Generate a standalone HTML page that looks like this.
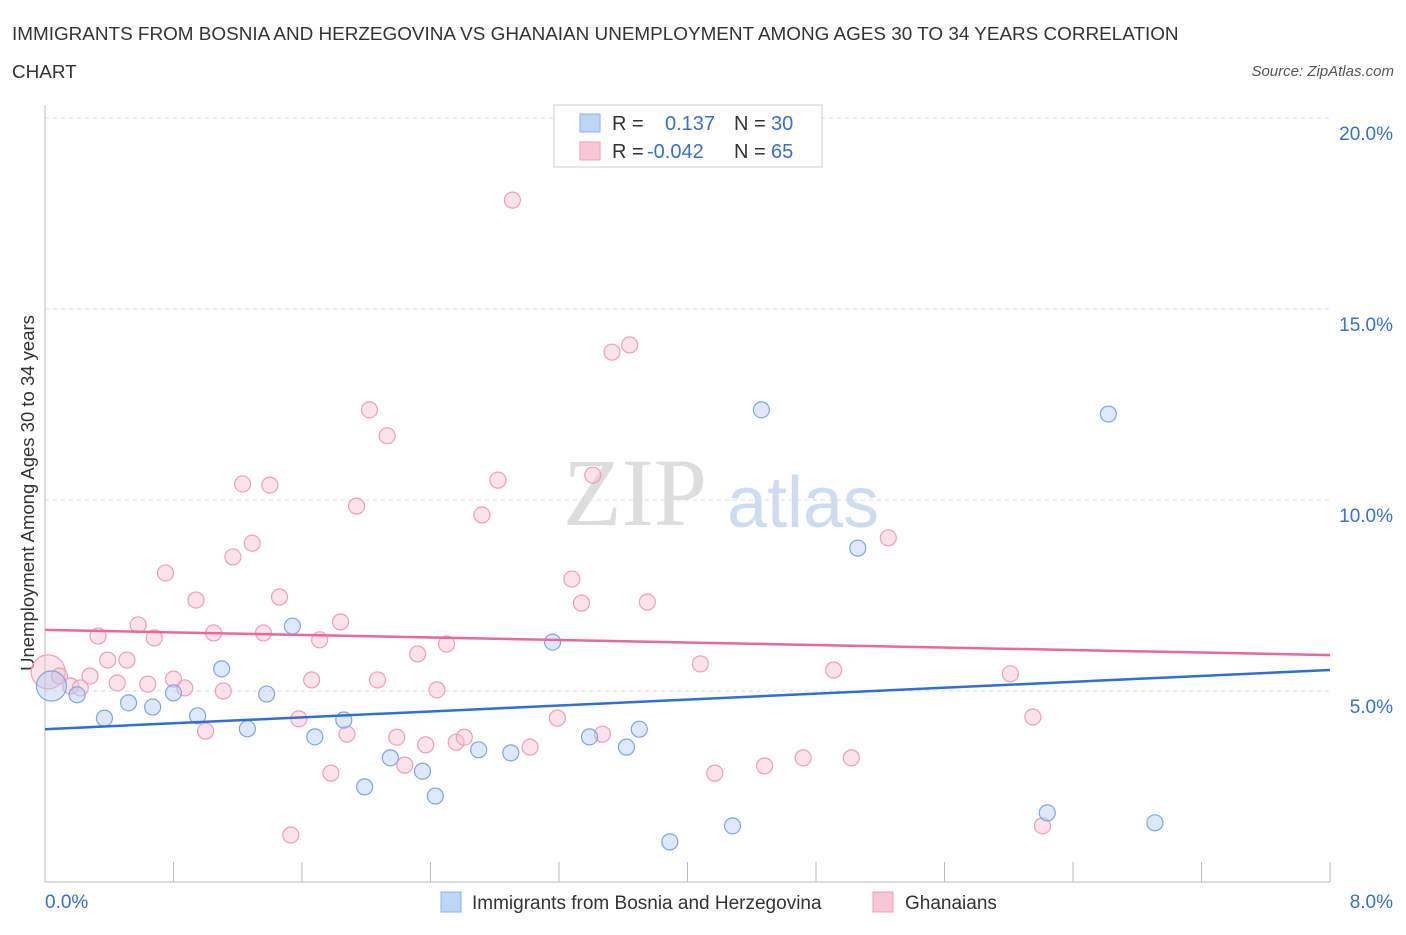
<!DOCTYPE html>
<html><head><meta charset="utf-8"><style>
body{margin:0;background:#fff;font-family:"Liberation Sans",sans-serif}
</style></head><body>
<svg id="chart" width="1406" height="930" xmlns="http://www.w3.org/2000/svg">
<text x="12" y="40" font-size="18.9" fill="#333">IMMIGRANTS FROM BOSNIA AND HERZEGOVINA VS GHANAIAN UNEMPLOYMENT AMONG AGES 30 TO 34 YEARS CORRELATION</text>
<text x="12" y="78" font-size="18.9" fill="#333">CHART</text>
<text x="1394" y="76" font-size="15" fill="#555" font-style="italic" text-anchor="end">Source: ZipAtlas.com</text>
<text x="34" y="493" font-size="18.5" fill="#333" text-anchor="middle" transform="rotate(-90 34 493)">Unemployment Among Ages 30 to 34 years</text>
<text x="635" y="525" font-size="96" fill="#ddd" font-family="Liberation Serif" text-anchor="middle">ZIP</text>
<text x="803" y="527" font-size="72" fill="#cfdcf0" text-anchor="middle">atlas</text>
<g id="grid"></g><g id="axes"></g><g id="marks"></g>
<g>
<rect x="554" y="105" width="268" height="62" fill="#fff" stroke="#ccc"/>
<rect x="580" y="114" width="20" height="18" fill="#bdd5f7" stroke="#8fb3e8"/>
<text x="612" y="130" font-size="20" fill="#333">R =</text><text x="665" y="130" font-size="20" fill="#3a70c8">0.137</text>
<text x="734" y="130" font-size="20" fill="#333">N =</text><text x="771" y="130" font-size="20" fill="#3a70c8">30</text>
<rect x="580" y="142" width="20" height="18" fill="#f8c7d5" stroke="#eda0b8"/>
<text x="612" y="158" font-size="20" fill="#333">R =</text><text x="647" y="158" font-size="20" fill="#3a70c8">-0.042</text>
<text x="734" y="158" font-size="20" fill="#333">N =</text><text x="771" y="158" font-size="20" fill="#3a70c8">65</text>
</g>
<g>
<rect x="441" y="892" width="20" height="20" fill="#bdd5f7" stroke="#8fb3e8"/>
<text x="472" y="909" font-size="19" fill="#333">Immigrants from Bosnia and Herzegovina</text>
<rect x="873" y="892" width="20" height="20" fill="#f8c7d5" stroke="#eda0b8"/>
<text x="905" y="909" font-size="19" fill="#333">Ghanaians</text>
</g>
</svg>
<script>
const blueX=[0.04,0.2,0.37,0.52,0.67,0.8,0.95,1.1,1.26,1.38,1.54,1.68,1.86,1.99,2.15,2.35,2.43,2.7,2.9,3.16,3.39,3.62,3.7,3.89,4.28,4.46,5.06,6.24,6.62,6.91];
const blueY=[5.13,4.9,4.29,4.69,4.58,4.95,4.35,5.58,4.01,4.92,6.7,3.8,4.24,2.49,3.25,2.9,2.25,3.46,3.38,6.28,3.8,3.53,4.0,1.05,1.47,12.36,8.74,1.81,12.25,1.55];
const pinkX=[0.02,0.09,0.16,0.22,0.28,0.33,0.39,0.45,0.51,0.58,0.64,0.68,0.75,0.8,0.87,0.94,1.0,1.05,1.11,1.17,1.23,1.29,1.36,1.4,1.46,1.53,1.58,1.66,1.71,1.78,1.84,1.88,1.94,2.02,2.07,2.13,2.19,2.24,2.32,2.37,2.44,2.5,2.56,2.61,2.72,2.82,2.91,3.02,3.19,3.28,3.34,3.41,3.47,3.53,3.64,3.75,4.08,4.17,4.48,4.72,4.91,5.02,5.25,6.01,6.15,6.21];
const pinkY=[5.5,5.39,5.13,5.08,5.39,6.44,5.81,5.21,5.81,6.73,5.18,6.39,8.09,5.31,5.08,7.38,3.95,6.52,5.0,8.51,10.42,8.87,6.52,10.39,7.46,1.23,4.27,5.29,6.34,2.85,6.81,3.87,9.84,12.36,5.29,11.68,3.79,3.06,5.97,3.59,5.03,6.23,3.66,3.79,9.61,10.52,17.85,3.53,4.29,7.93,7.3,10.65,3.87,13.87,14.06,7.33,5.71,2.85,3.04,3.25,5.55,3.25,9.01,5.45,4.32,1.47];
const blueTrend=[4.0,5.55], pinkTrend=[6.6,5.94];
const xTicks=[0,0.8,1.6,2.4,3.2,4.0,4.8,5.6,6.4,7.2,8.0];
const yTicks=[5,10,15,20];
const yTickLabels=["5.0%","10.0%","15.0%","20.0%"];
const X=v=>45+v*160.625, Y=v=>882-v*38.2;
const NS="http://www.w3.org/2000/svg";
function mk(p,t,a){const e=document.createElementNS(NS,t);for(const k in a)e.setAttribute(k,a[k]);p.appendChild(e);return e;}
const grid=document.getElementById('grid'),axes=document.getElementById('axes'),marks=document.getElementById('marks');
yTicks.forEach((v,i)=>{const l=mk(grid,'line',{x1:45,x2:1330,y1:Y(v),y2:Y(v),stroke:'#ddd','stroke-dasharray':'4,4'});

const t=mk(axes,'text',{x:1393,y:Y(v)+22,'font-size':19,fill:'#3a70c8','text-anchor':'end'});t.textContent=yTickLabels[i];
});
const ax=mk(axes,'line',{x1:45,x2:1330,y1:882,y2:882,stroke:'#bbb'});
const ay=mk(axes,'line',{x1:45,x2:45,y1:105,y2:882,stroke:'#bbb'});
xTicks.forEach(v=>{const t=mk(axes,'line',{x1:X(v),x2:X(v),y1:862,y2:882,stroke:'#bbb'});});
const xl0=mk(axes,'text',{x:45,y:908,'font-size':19,fill:'#3a70c8'});xl0.textContent='0.0%';
const xl1=mk(axes,'text',{x:1393,y:908,'font-size':19,fill:'#3a70c8','text-anchor':'end'});xl1.textContent='8.0%';
pinkX.forEach((v,i)=>{const c=mk(marks,'circle',{cx:X(v),cy:Y(pinkY[i]),r:i==0?17:8,fill:'rgba(248,190,210,0.45)',stroke:'#eea0b9','stroke-width':1.2});
});
blueX.forEach((v,i)=>{const c=mk(marks,'circle',{cx:X(v),cy:Y(blueY[i]),r:i==0?15:8,fill:'rgba(180,205,245,0.45)',stroke:'#7fa6e0','stroke-width':1.2});
});
const bl=mk(marks,'line',{x1:X(0),x2:X(8),y1:Y(blueTrend[0]),y2:Y(blueTrend[1]),stroke:'#2f6fd6','stroke-width':2.5});

const pl=mk(marks,'line',{x1:X(0),x2:X(8),y1:Y(pinkTrend[0]),y2:Y(pinkTrend[1]),stroke:'#e8699a','stroke-width':2.5});

</script>
</body></html>
